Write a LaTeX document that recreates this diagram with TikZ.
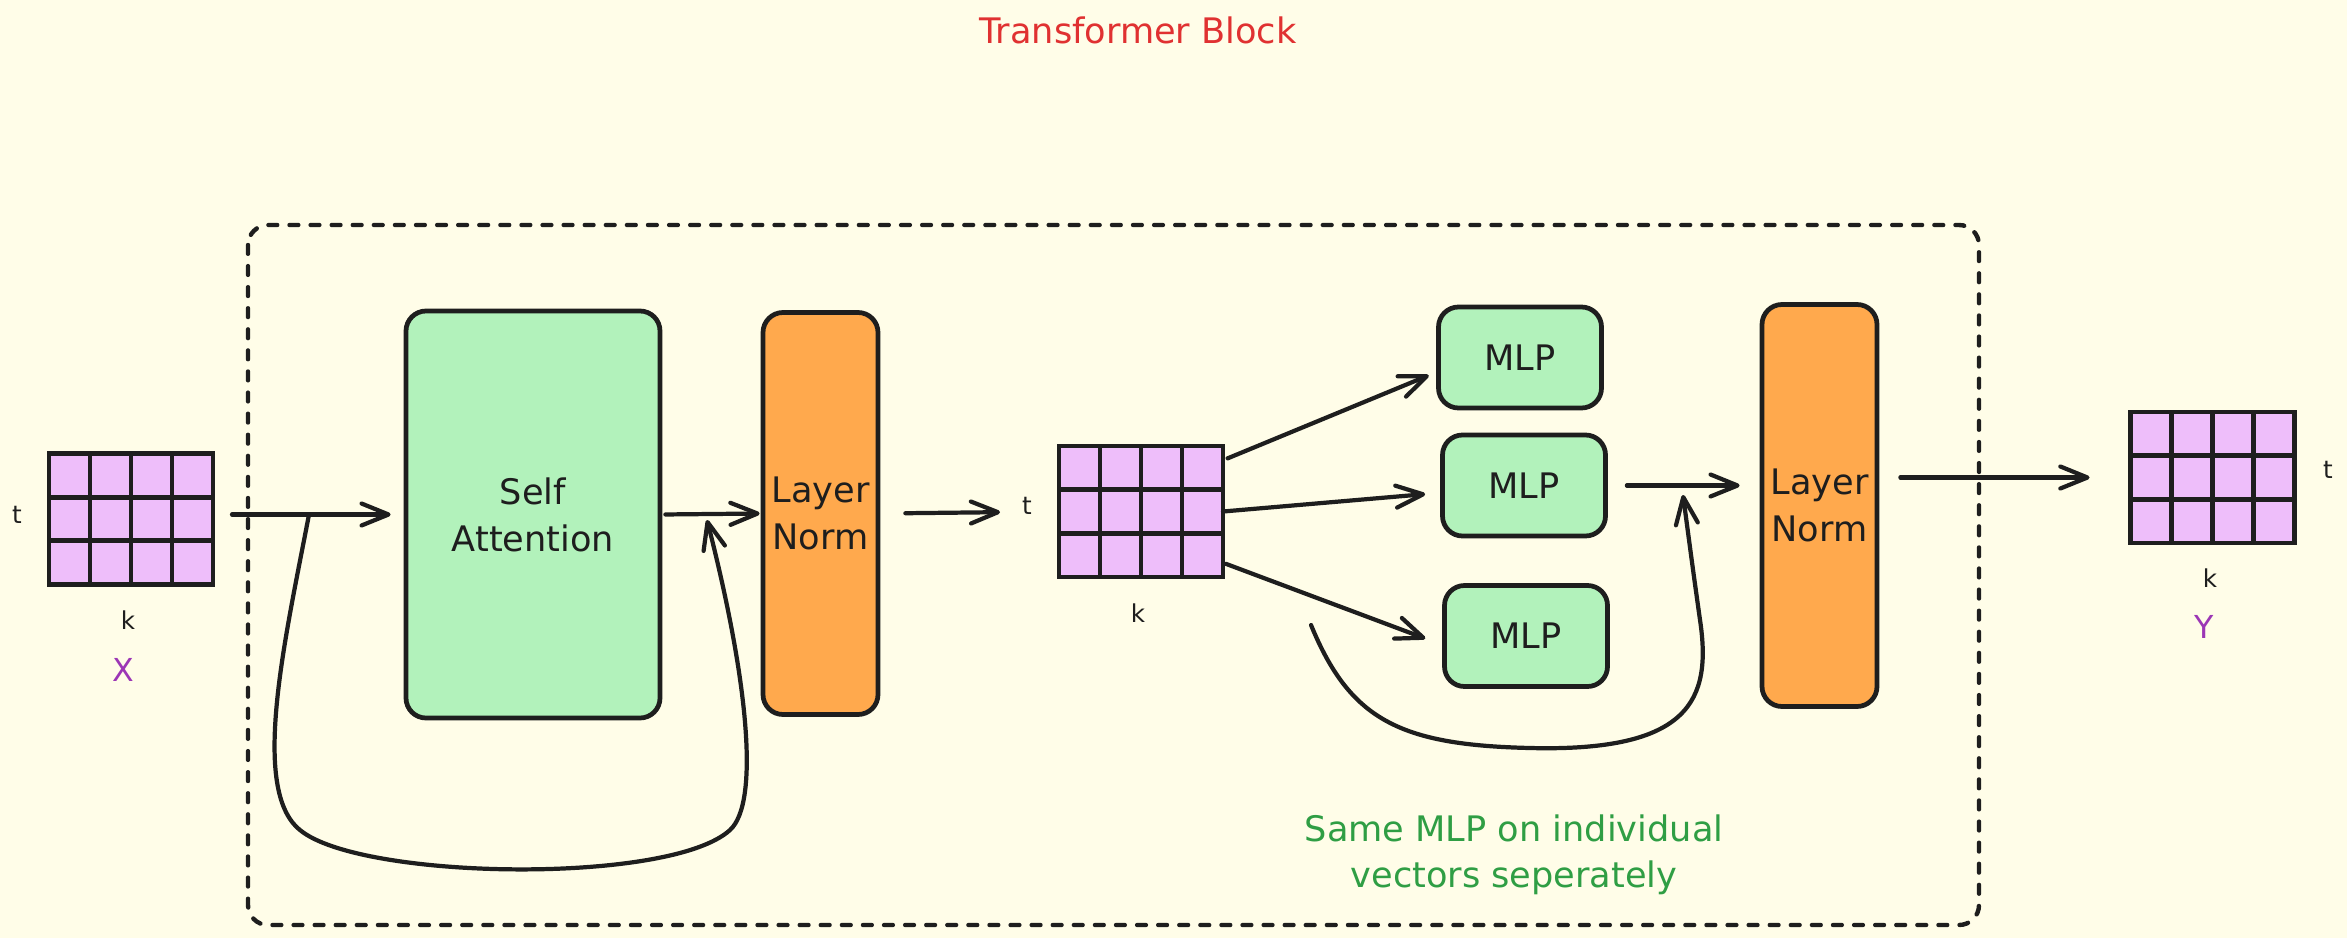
\documentclass[tikz,border=0pt]{standalone}
\usepackage{fontspec}
\setmainfont{DejaVu Sans}
\usetikzlibrary{arrows.meta,calc}

\definecolor{paper}{HTML}{FFFDE8}
\definecolor{ink}{HTML}{1E1E1E}
\definecolor{mintfill}{HTML}{B2F2BB}
\definecolor{normfill}{HTML}{FFA94D}
\definecolor{cellfill}{HTML}{EEBEFA}
\definecolor{titlered}{HTML}{E03131}
\definecolor{notegreen}{HTML}{2F9E44}
\definecolor{namepurple}{HTML}{9C36B5}

\tikzset{
  box/.style={draw=ink, line width=1.35pt, rounded corners=0.2cm, inner sep=0pt,
    align=center, text=ink, font=\fontsize{10}{13.4}\selectfont},
  attn/.style={box, fill=mintfill, minimum width=2.54cm, minimum height=4.07cm},
  norm/.style={box, fill=normfill, minimum width=1.15cm, minimum height=4.02cm},
  mlp/.style={box, fill=mintfill, minimum width=1.63cm, minimum height=1.01cm},
  mat/.style={draw=ink, line width=1.35pt, fill=cellfill, outer sep=0pt,
    minimum width=1.64cm, minimum height=1.31cm, inner sep=0pt},
  arr/.style={draw=ink, line width=1.2pt, line cap=round,
    -{Straight Barb[length=2.7mm,width=2.2mm,round]}},
  dim/.style={text=ink, font=\fontsize{7}{8}\selectfont},
  matname/.style={text=namepurple, font=\fontsize{9}{10}\selectfont},
}

\begin{document}
\begin{tikzpicture}
\fill[paper] (0,0) rectangle (23.47,-9.38);
\useasboundingbox (0,0) rectangle (23.47,-9.38);

\node[text=titlered, font=\fontsize{10}{12}\selectfont] (title) at (11.38,-0.30) {Transformer Block};

% the block
\draw[ink, line width=1.25pt, line cap=round, dash pattern=on 2.5pt off 3.5pt,
  rounded corners=0.2cm] (2.48,-2.25) rectangle (19.79,-9.25);

% matrices
\node[mat] (X) at (1.31,-5.19) {};
\node[mat] (H) at (11.41,-5.115) {};
\node[mat] (Y) at (22.125,-4.775) {};
\foreach \m in {X,H,Y} {
\foreach \i in {1,2,3} {
\draw[ink, line width=1.35pt] ($(\m.north west)!\i/4!(\m.north east)$) -- ($(\m.south west)!\i/4!(\m.south east)$);
}
\foreach \j in {1,2} {
\draw[ink, line width=1.35pt] ($(\m.north west)!\j/3!(\m.south west)$) -- ($(\m.north east)!\j/3!(\m.south east)$);
}
}

\node[dim] (tX) at (0.17,-5.15) {t};
\node[dim] (kX) at (1.28,-6.20) {k};
\node[matname] (nX) at (1.23,-6.70) {X};
\node[dim] (tH) at (10.27,-5.06) {t};
\node[dim] (kH) at (11.38,-6.13) {k};
\node[dim] (tY) at (23.28,-4.70) {t};
\node[dim] (kY) at (22.10,-5.78) {k};
\node[matname] (nY) at (22.04,-6.27) {Y};

% blocks
\node[attn] (SA) at (5.33,-5.145) {Self\\Attention};
\node[norm] (LN1) at (8.205,-5.135) {Layer\\Norm};
\node[mlp] (M1) at (15.20,-3.575) {MLP};
\node[mlp] (M2) at (15.24,-4.855) {MLP};
\node[mlp] (M3) at (15.26,-6.36) {MLP};
\node[norm] (LN2) at (18.195,-5.055) {Layer\\Norm};

\node[text=notegreen, align=center, font=\fontsize{10}{13}\selectfont] (note) at (15.14,-8.55) {Same MLP on individual\\vectors seperately};

% main flow
\draw[arr, shorten <=0.19cm, shorten >=0.13cm] (SA.west -| X.east) -- (SA.west);
\draw[arr, shorten <=0.03cm, shorten >=0.01cm] (SA.east) -- (LN1.west);
\draw[arr, shorten <=0.25cm, shorten >=0.59cm] (LN1.east) -- (H.west);
\draw[arr, shorten <=0.05cm, shorten >=0.08cm] (H.32) -- (M1.190);
\draw[arr, shorten >=0.15cm] (H.east) -- (M2.185);
\draw[arr, shorten <=0.03cm, shorten >=0.18cm] (H.-32) -- (M3.186);
\draw[arr, shorten <=0.19cm, shorten >=0.20cm] (M2.east) -- (M2.east -| LN2.west);
\draw[arr, shorten <=0.21cm, shorten >=0.41cm] (Y.west -| LN2.east) -- (Y.west);

% residual paths
\coordinate (split1) at (3.09,-5.145);
\coordinate (join1) at (7.07,-5.20);
\coordinate (split2) at (13.11,-6.25);
\coordinate (join2) at (16.83,-4.95);
\draw[arr] (split1) .. controls (2.85,-6.40) and (2.50,-7.90) .. (3.00,-8.30)
  .. controls (3.60,-8.80) and (6.70,-8.85) .. (7.30,-8.30)
  .. controls (7.60,-8.025) and (7.48,-6.80) .. (join1);
\draw[arr] (split2) .. controls (13.50,-7.20) and (14.00,-7.45) .. (15.30,-7.48)
  .. controls (16.90,-7.52) and (17.12,-7.00) .. (17.00,-6.20)
  .. controls (16.93,-5.70) .. (join2);
\end{tikzpicture}
\end{document}
